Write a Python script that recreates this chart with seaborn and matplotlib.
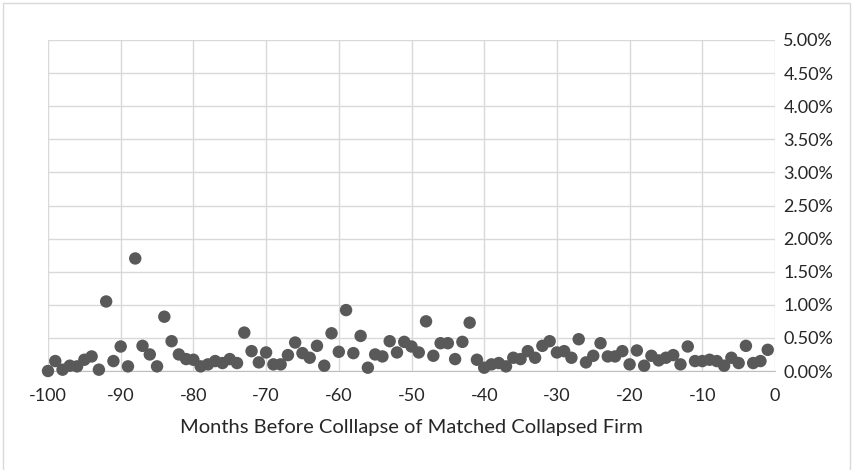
import numpy as np
import pandas as pd
import seaborn as sns
import matplotlib
matplotlib.use('Agg')
import matplotlib.pyplot as plt
from matplotlib.patches import Rectangle
from matplotlib.ticker import FuncFormatter

months = list(range(-100, 0))
rates = [0.00, 0.15, 0.02, 0.08, 0.07, 0.17, 0.22, 0.02, 1.05, 0.15,
         0.37, 0.07, 1.70, 0.38, 0.25, 0.07, 0.82, 0.45, 0.25, 0.18,
         0.17, 0.07, 0.10, 0.15, 0.12, 0.18, 0.12, 0.58, 0.30, 0.13,
         0.28, 0.10, 0.10, 0.24, 0.43, 0.27, 0.20, 0.38, 0.08, 0.57,
         0.29, 0.92, 0.27, 0.53, 0.05, 0.25, 0.22, 0.45, 0.28, 0.44,
         0.37, 0.28, 0.75, 0.23, 0.42, 0.42, 0.18, 0.44, 0.73, 0.17,
         0.05, 0.10, 0.12, 0.07, 0.20, 0.18, 0.30, 0.20, 0.38, 0.45,
         0.28, 0.30, 0.20, 0.48, 0.13, 0.23, 0.42, 0.22, 0.22, 0.30,
         0.10, 0.31, 0.08, 0.23, 0.16, 0.20, 0.24, 0.10, 0.37, 0.15,
         0.15, 0.17, 0.15, 0.08, 0.20, 0.12, 0.38, 0.12, 0.15, 0.32]
x_ticks = list(range(-100, 1, 10))
y_ticks = [i * 0.5 for i in range(11)]

df = pd.DataFrame({'month': months, 'rate': rates})

sns.set_style('white')
plt.rcParams['font.family'] = ['Lato', 'DejaVu Sans']
plt.rcParams['axes.unicode_minus'] = False

fig = plt.figure(figsize=(8.57, 4.70), dpi=100)
ax = fig.add_axes([48 / 857, 99 / 470, 727 / 857, 331 / 470])

sns.scatterplot(data=df, x='month', y='rate', ax=ax, color='#595959',
                s=80, edgecolor='none', zorder=3, clip_on=False)

ax.set_xlim(-100, 0)
ax.set_ylim(0, 5)
ax.set_xticks(x_ticks)
ax.set_yticks(y_ticks)
ax.yaxis.tick_right()
ax.yaxis.set_major_formatter(FuncFormatter(lambda v, p: '%.2f%%' % v))
ax.tick_params(axis='both', length=0, labelsize=13, colors='#262626')
ax.tick_params(axis='x', pad=12)
ax.tick_params(axis='y', pad=6)
ax.grid(True, color='#d9d9d9', linewidth=1)
for side in ['top', 'left', 'right']:
    ax.spines[side].set_visible(False)
ax.spines['bottom'].set_color('#bfbfbf')
ax.set_xlabel('Months Before Colllapse of Matched Collapsed Firm',
              fontsize=14.5, color='#262626', labelpad=11)
ax.set_ylabel('')

fig.patches.append(Rectangle((3 / 857, -0.05), 847 / 857, 1.05 - 3 / 470,
                             transform=fig.transFigure, fill=False,
                             edgecolor='#d9d9d9', linewidth=1))

fig.savefig('out.png', dpi=100)
